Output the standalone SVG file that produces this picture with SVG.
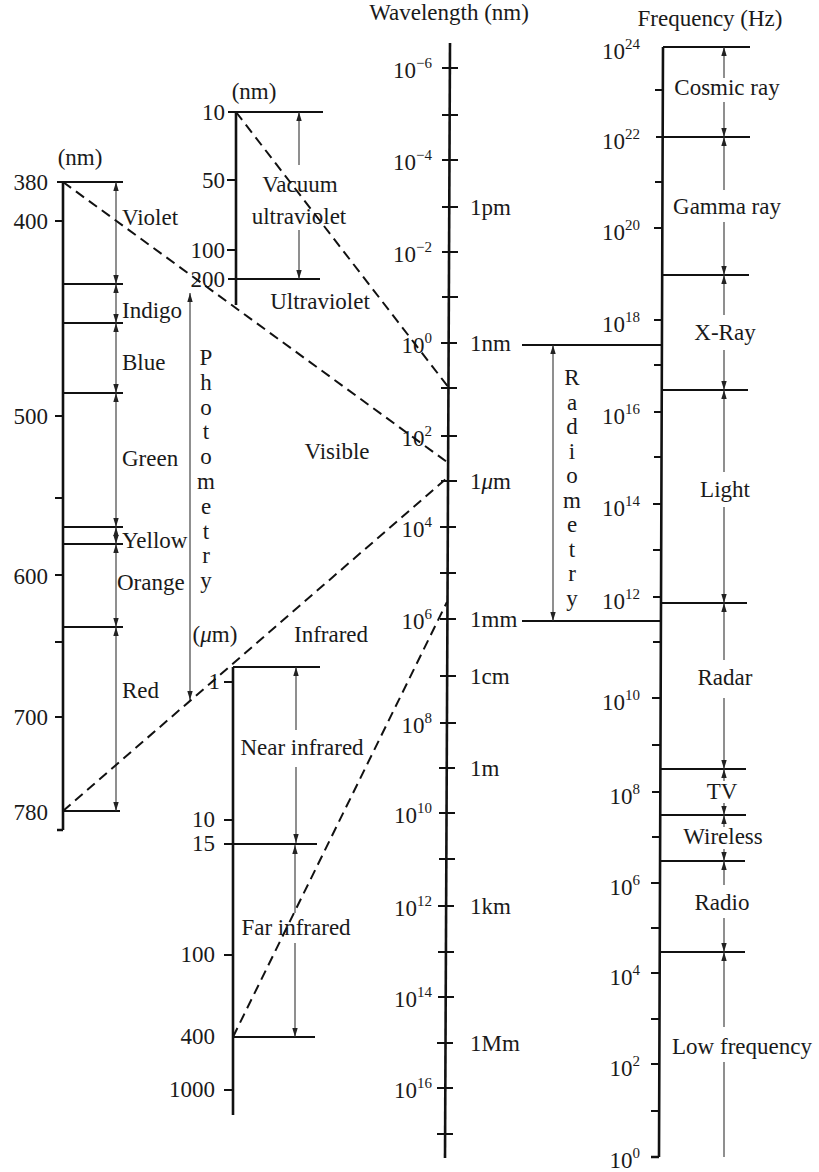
<svg xmlns="http://www.w3.org/2000/svg" width="819" height="1172" viewBox="0 0 819 1172">
<defs>
<marker id="ah" viewBox="0 0 10 6" markerWidth="9" markerHeight="5.4" refX="10" refY="3" orient="auto-start-reverse" markerUnits="userSpaceOnUse"><path d="M0,0 L10,3 L0,6 z" fill="#222"/></marker>
</defs>
<style>
text{font-family:"Liberation Serif","Times New Roman",serif;font-size:23px;fill:#1a1a1a}
.sup{font-size:15px}
.m{text-anchor:middle}
.e{text-anchor:end}
.axis{stroke:#111;stroke-width:2.6;fill:none}
.tick{stroke:#111;stroke-width:2;fill:none}
.bnd{stroke:#111;stroke-width:1.8;fill:none}
.arr{stroke:#333;stroke-width:1.1;fill:none}
.dbl{marker-start:url(#ah);marker-end:url(#ah)}
.one{marker-end:url(#ah)}
.dash{stroke:#111;stroke-width:2;stroke-dasharray:10 6;fill:none}
</style>
<rect width="819" height="1172" fill="#fff"/>

<g id="visible-scale">
<path class="axis" d="M63,182 V830 M57,830 H63"/>
<path class="bnd" d="M57,182 H123 M63,284 H123 M63,323 H123 M63,393 H123 M63,527 H123 M63,544 H123 M63,627 H123 M63,811 H120"/>
<path class="tick" d="M55,221 H63 M55,416 H63 M55,498 H63 M55,575 H63 M55,642 H63 M55,717 H63"/>
<text class="m" x="80" y="165">(nm)</text>
<text class="e" x="48" y="190">380</text>
<text class="e" x="48" y="229">400</text>
<text class="e" x="48" y="424">500</text>
<text class="e" x="48" y="584">600</text>
<text class="e" x="48" y="725">700</text>
<text class="e" x="48" y="820">780</text>
<line class="arr dbl" x1="116" y1="182" x2="116" y2="284"/>
<line class="arr dbl" x1="116" y1="284" x2="116" y2="323"/>
<line class="arr dbl" x1="116" y1="323" x2="116" y2="393"/>
<line class="arr dbl" x1="116" y1="393" x2="116" y2="527"/>
<line class="arr dbl" x1="116" y1="527" x2="116" y2="544"/>
<line class="arr dbl" x1="116" y1="544" x2="116" y2="627"/>
<line class="arr dbl" x1="116" y1="627" x2="116" y2="811"/>
<text x="122" y="225">Violet</text>
<text x="122" y="318">Indigo</text>
<text x="122" y="370">Blue</text>
<text x="122" y="466">Green</text>
<text x="122" y="548">Yellow</text>
<text x="117" y="590">Orange</text>
<text x="122" y="698">Red</text>
</g>

<g id="photometry">
<line class="arr dbl" x1="190" y1="293" x2="190" y2="700"/>
<text class="m" x="206" y="365">P</text>
<text class="m" x="206" y="390">h</text>
<text class="m" x="206" y="415">o</text>
<text class="m" x="206" y="439">t</text>
<text class="m" x="206" y="464">o</text>
<text class="m" x="206" y="489">m</text>
<text class="m" x="206" y="514">e</text>
<text class="m" x="206" y="539">t</text>
<text class="m" x="206" y="563">r</text>
<text class="m" x="206" y="588">y</text>
</g>

<g id="uv-scale">
<path class="axis" d="M236,112 V305"/>
<path class="bnd" d="M228,112 H323 M228,279 H320"/>
<path class="tick" d="M227,180 H236 M227,250 H236"/>
<text class="m" x="254" y="99">(nm)</text>
<text class="e" x="225" y="120">10</text>
<text class="e" x="225" y="188">50</text>
<text class="e" x="225" y="258">100</text>
<text class="e" x="225" y="287">200</text>
<line class="arr one" x1="299" y1="165" x2="299" y2="112"/>
<line class="arr one" x1="299" y1="230" x2="299" y2="279"/>
<text class="m" x="300" y="192">Vacuum</text>
<text class="m" x="299" y="224">ultraviolet</text>
<text class="m" x="320" y="309">Ultraviolet</text>
</g>

<g id="visible-label">
<text class="m" x="337" y="459">Visible</text>
</g>

<g id="ir-scale">
<path class="axis" d="M233,667 V1115"/>
<path class="bnd" d="M233,667 H320 M224,844 H317 M233,1037 H315"/>
<path class="tick" d="M224,682 H233 M224,820 H233 M224,955 H233 M224,1090 H233"/>
<text class="m" x="215" y="642">(<tspan font-style="italic">μ</tspan>m)</text>
<text class="m" x="331" y="642">Infrared</text>
<text class="e" x="220" y="689">1</text>
<text class="e" x="215" y="827">10</text>
<text class="e" x="215" y="851">15</text>
<text class="e" x="215" y="962">100</text>
<text class="e" x="215" y="1044">400</text>
<text class="e" x="215" y="1097">1000</text>
<line class="arr one" x1="296" y1="730" x2="296" y2="667"/>
<line class="arr one" x1="296" y1="767" x2="296" y2="843"/>
<line class="arr one" x1="295" y1="913" x2="295" y2="845"/>
<line class="arr one" x1="295" y1="943" x2="295" y2="1037"/>
<text class="m" x="302" y="755">Near infrared</text>
<text class="m" x="296" y="935">Far infrared</text>
</g>

<g id="wavelength-axis">
<text class="m" x="449" y="20">Wavelength (nm)</text>
<path class="axis" d="M450,43 L445,1158"/>
<path class="tick" d="M442,68 H458 M442,115 H458 M442,160 H458 M442,207 H458 M442,252 H458 M442,297 H458 M441,343 H457 M441,388 H457 M441,436 H457 M441,481 H457 M440,527 H456 M440,573 H456 M440,619 H456 M440,676 H456 M440,723 H456 M439,768 H455 M439,813 H455 M439,859 H455 M438,906 H454 M438,952 H454 M438,997 H454 M437,1043 H453 M437,1088 H453 M437,1134 H453"/>
<text class="e" x="432" y="78">10<tspan class="sup" dy="-10">−6</tspan></text>
<text class="e" x="432" y="170">10<tspan class="sup" dy="-10">−4</tspan></text>
<text class="e" x="432" y="262">10<tspan class="sup" dy="-10">−2</tspan></text>
<text class="e" x="432" y="353">10<tspan class="sup" dy="-10">0</tspan></text>
<text class="e" x="432" y="446">10<tspan class="sup" dy="-10">2</tspan></text>
<text class="e" x="432" y="537">10<tspan class="sup" dy="-10">4</tspan></text>
<text class="e" x="432" y="629">10<tspan class="sup" dy="-10">6</tspan></text>
<text class="e" x="432" y="733">10<tspan class="sup" dy="-10">8</tspan></text>
<text class="e" x="432" y="823">10<tspan class="sup" dy="-10">10</tspan></text>
<text class="e" x="432" y="916">10<tspan class="sup" dy="-10">12</tspan></text>
<text class="e" x="432" y="1007">10<tspan class="sup" dy="-10">14</tspan></text>
<text class="e" x="432" y="1098">10<tspan class="sup" dy="-10">16</tspan></text>
<text x="470" y="215">1pm</text>
<text x="470" y="351">1nm</text>
<text x="470" y="489">1<tspan font-style="italic">μ</tspan>m</text>
<text x="470" y="627">1mm</text>
<text x="470" y="684">1cm</text>
<text x="470" y="776">1m</text>
<text x="470" y="914">1km</text>
<text x="470" y="1051">1Mm</text>
</g>

<g id="radiometry">
<path class="bnd" d="M522,345 H662 M522,621 H661"/>
<line class="arr dbl" x1="553" y1="345" x2="553" y2="621"/>
<text class="m" x="572" y="385">R</text>
<text class="m" x="572" y="410">a</text>
<text class="m" x="572" y="434">d</text>
<text class="m" x="572" y="459">i</text>
<text class="m" x="572" y="483">o</text>
<text class="m" x="572" y="508">m</text>
<text class="m" x="572" y="532">e</text>
<text class="m" x="572" y="557">t</text>
<text class="m" x="572" y="581">r</text>
<text class="m" x="572" y="606">y</text>
</g>

<g id="frequency-axis">
<text class="m" x="710" y="26">Frequency (Hz)</text>
<path class="axis" d="M663,47 L659,1157 M651,1157 H659"/>
<path class="tick" d="M655,90 H663 M655,182 H663 M654,228 H662 M654,320 H662 M654,365 H662 M654,412 H662 M654,457 H662 M653,504 H661 M653,550 H661 M653,597 H661 M653,642 H661 M652,698 H660 M652,745 H660 M652,792 H660 M652,837 H660 M651,883 H659 M651,928 H659 M651,973 H659 M651,1019 H659 M651,1064 H659 M651,1111 H659"/>
<path class="bnd" d="M663,47 H750 M656,137 H750 M662,275 H749 M662,390 H748 M661,603 H747 M660,769 H746 M660,815 H746 M660,861 H745 M659,952 H745"/>
<text class="e" x="640" y="59">10<tspan class="sup" dy="-10">24</tspan></text>
<text class="e" x="640" y="149">10<tspan class="sup" dy="-10">22</tspan></text>
<text class="e" x="640" y="240">10<tspan class="sup" dy="-10">20</tspan></text>
<text class="e" x="640" y="332">10<tspan class="sup" dy="-10">18</tspan></text>
<text class="e" x="640" y="424">10<tspan class="sup" dy="-10">16</tspan></text>
<text class="e" x="640" y="516">10<tspan class="sup" dy="-10">14</tspan></text>
<text class="e" x="640" y="609">10<tspan class="sup" dy="-10">12</tspan></text>
<text class="e" x="640" y="710">10<tspan class="sup" dy="-10">10</tspan></text>
<text class="e" x="640" y="804">10<tspan class="sup" dy="-10">8</tspan></text>
<text class="e" x="640" y="895">10<tspan class="sup" dy="-10">6</tspan></text>
<text class="e" x="640" y="985">10<tspan class="sup" dy="-10">4</tspan></text>
<text class="e" x="640" y="1076">10<tspan class="sup" dy="-10">2</tspan></text>
<text class="e" x="640" y="1168">10<tspan class="sup" dy="-10">0</tspan></text>
</g>

<g id="frequency-bands">
<line class="arr one" x1="724" y1="78" x2="724" y2="47"/>
<line class="arr one" x1="724" y1="102" x2="724" y2="137"/>
<line class="arr one" x1="724" y1="190" x2="724" y2="137"/>
<line class="arr one" x1="724" y1="222" x2="724" y2="275"/>
<line class="arr one" x1="724" y1="315" x2="724" y2="275"/>
<line class="arr one" x1="724" y1="350" x2="724" y2="390"/>
<line class="arr one" x1="724" y1="472" x2="724" y2="390"/>
<line class="arr one" x1="724" y1="507" x2="724" y2="603"/>
<line class="arr one" x1="724" y1="660" x2="724" y2="603"/>
<line class="arr one" x1="724" y1="698" x2="724" y2="769"/>
<line class="arr one" x1="724" y1="781" x2="724" y2="769"/>
<line class="arr one" x1="724" y1="803" x2="724" y2="815"/>
<line class="arr one" x1="724" y1="827" x2="724" y2="815"/>
<line class="arr one" x1="724" y1="849" x2="724" y2="861"/>
<line class="arr one" x1="724" y1="885" x2="724" y2="861"/>
<line class="arr one" x1="724" y1="918" x2="724" y2="952"/>
<line class="arr one" x1="724" y1="1027" x2="724" y2="952"/>
<line class="arr" x1="724" y1="1062" x2="724" y2="1157"/>
<text class="m" x="727" y="95">Cosmic ray</text>
<text class="m" x="727" y="214">Gamma ray</text>
<text class="m" x="725" y="340">X-Ray</text>
<text class="m" x="725" y="497">Light</text>
<text class="m" x="725" y="685">Radar</text>
<text class="m" x="722" y="799">TV</text>
<text class="m" x="723" y="844">Wireless</text>
<text class="m" x="722" y="910">Radio</text>
<text class="m" x="742" y="1054">Low frequency</text>
</g>

<g id="connectors">
<path class="dash" d="M63,182 L447,462"/>
<path class="dash" d="M63,811 L447,478"/>
<path class="dash" d="M236,112 L449,388"/>
<path class="dash" d="M233,1037 L447,602"/>
</g>
</svg>
